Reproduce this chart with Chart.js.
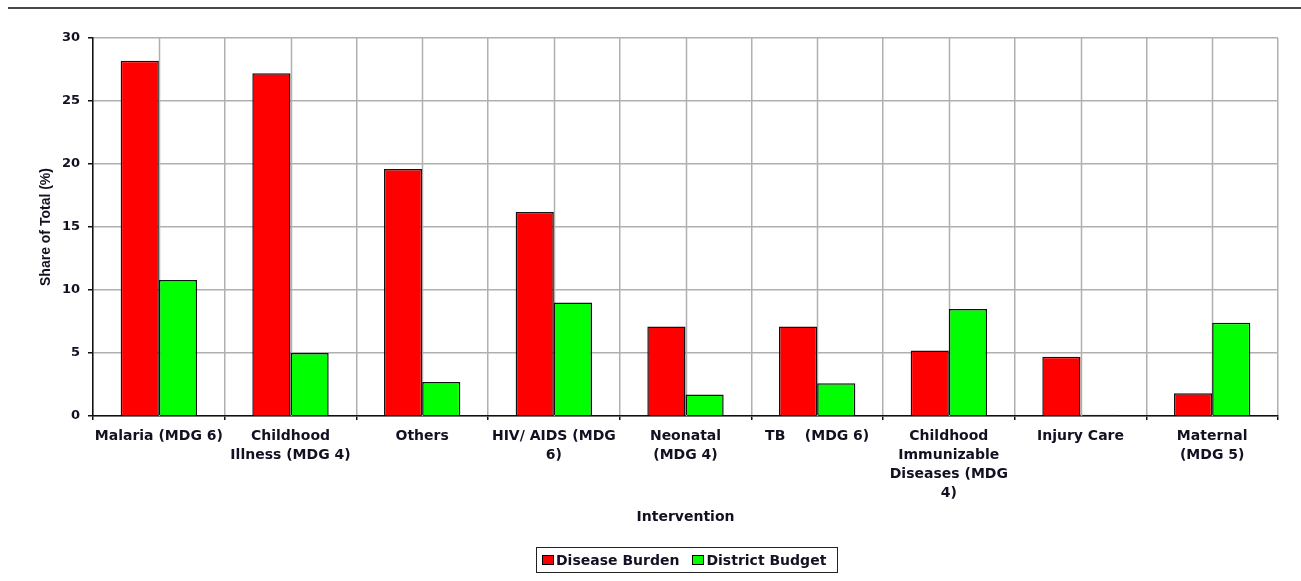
<!DOCTYPE html>
<html>
<head>
<meta charset="utf-8">
<script src="https://cdn.jsdelivr.net/npm/chart.js@4"></script>
<style>
  html, body { margin: 0; padding: 0; background: #fff; }
  body { width: 1301px; height: 581px; position: relative; overflow: hidden; font-family: "DejaVu Sans", sans-serif; }
  #topline { position: absolute; left: 8px; top: 7px; width: 1293px; height: 0; border-top: 2px solid #484848; }
  #wrap { position: absolute; left: 0; top: 0; width: 1301px; height: 581px; }
  #legend { position: absolute; left: 536px; top: 547px; width: 295px; height: 24px; border: 1px solid #222; font-weight: bold; font-size: 14px; color: #111122; display: flex; align-items: center; padding-left: 5px; box-sizing: content-box; white-space: nowrap; }
  #legend span.box { display: inline-block; width: 10px; height: 8px; border: 1px solid #000; margin-right: 2px; }
  #legend span.item { margin-right: 13px; display: flex; align-items: center; }
</style>
</head>
<body>
<div id="topline"></div>
<div id="wrap"><canvas id="chart1"></canvas></div>
<div id="legend"></div>
<script>
const categories = [
    ['Malaria (MDG 6)'],
    ['Childhood', 'Illness (MDG 4)'],
    ['Others'],
    ['HIV/ AIDS (MDG', '6)'],
    ['Neonatal', '(MDG 4)'],
    ['TB    (MDG 6)'],
    ['Childhood', 'Immunizable', 'Diseases (MDG', '4)'],
    ['Injury Care'],
    ['Maternal', '(MDG 5)']
];
const diseaseBurden = [28.2, 27.2, 19.6, 16.2, 7.1, 7.1, 5.2, 4.7, 1.8];
const districtBudget = [10.8, 5.0, 2.7, 9.0, 1.7, 2.6, 8.5, 0.1, 7.4];
const seriesNames = ['Disease Burden', 'District Budget'];
const seriesColors = ['#ff0000', '#00ff00'];

const ctx1 = document.getElementById('chart1').getContext('2d');
const txt = '#111122';
const gridGray = '#b0b0b0';

// vertical grid lines through the middle of every category
const centerLines = {
    id: 'centerLines',
    beforeDatasetsDraw: function (chart) {
        const xs = chart.scales.x;
        const area = chart.chartArea;
        const c = chart.ctx;
        c.save();
        c.strokeStyle = gridGray;
        c.lineWidth = 1.5;
        for (let i = 0; i < categories.length; i++) {
            const px = Math.round(xs.getPixelForValue(i)) + 0.5;
            c.beginPath();
            c.moveTo(px, area.top);
            c.lineTo(px, area.bottom);
            c.stroke();
        }
        c.restore();
    }
};

const chart1 = new Chart(ctx1, {
    type: 'bar',
    data: {
        labels: categories,
        datasets: [{
            label: seriesNames[0],
            data: diseaseBurden,
            backgroundColor: seriesColors[0],
            borderColor: '#111',
            borderWidth: 1.5,
            categoryPercentage: 0.58,
            barPercentage: 1.0
        }, {
            label: seriesNames[1],
            data: districtBudget,
            backgroundColor: seriesColors[1],
            borderColor: '#111',
            borderWidth: 1.5,
            categoryPercentage: 0.58,
            barPercentage: 1.0
        }]
    },
    options: {
        responsive: true,
        maintainAspectRatio: false,
        animation: false,
        layout: { padding: { top: 38, left: 0, right: 23, bottom: 52 } },
        plugins: {
            legend: { display: false },
            tooltip: { enabled: false }
        },
        scales: {
            x: {
                type: 'category',
                grid: { offset: true, color: gridGray, lineWidth: 1.5, tickColor: '#111', tickLength: 4 },
                border: { color: '#111', width: 1.5 },
                ticks: {
                    color: txt,
                    font: { family: 'DejaVu Sans', weight: 'bold', size: 14, lineHeight: 1.35 },
                    padding: 7,
                    maxRotation: 0,
                    autoSkip: false
                },
                title: {
                    display: true,
                    text: 'Intervention',
                    color: txt,
                    font: { family: 'DejaVu Sans', weight: 'bold', size: 14 },
                    padding: { top: 3, bottom: 3 }
                },
                afterFit: function (scale) { scale.height = 113; }
            },
            y: {
                min: 0,
                max: 30,
                grid: { color: gridGray, lineWidth: 1.5, tickColor: '#111', tickLength: 5 },
                border: { color: '#111', width: 1.5 },
                ticks: {
                    stepSize: 5,
                    color: txt,
                    padding: 8,
                    font: { family: 'DejaVu Sans', weight: 'bold', size: 13 }
                },
                title: {
                    display: true,
                    text: 'Share of Total (%)',
                    color: txt,
                    font: { family: 'Liberation Sans', weight: 'bold', size: 14 },
                    padding: { top: 38, bottom: 38 }
                },
                afterFit: function (scale) { scale.width = 93; }
            }
        }
    },
    plugins: [centerLines]
});

// legend drawn from the series names and colours
const legendEl = document.getElementById('legend');
seriesNames.forEach(function (name, i) {
    const item = document.createElement('span');
    item.className = 'item';
    const box = document.createElement('span');
    box.className = 'box';
    box.style.background = seriesColors[i];
    item.appendChild(box);
    item.appendChild(document.createTextNode(name));
    legendEl.appendChild(item);
});
</script>
</body>
</html>
